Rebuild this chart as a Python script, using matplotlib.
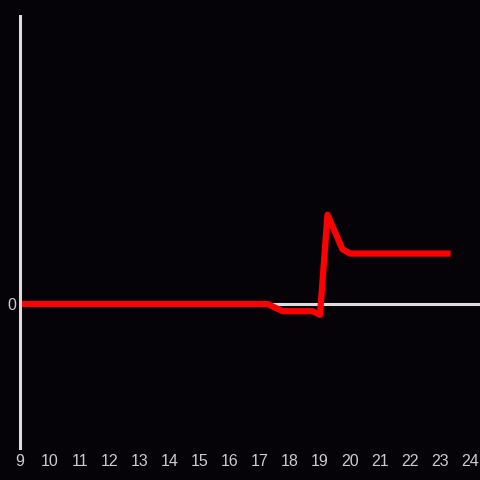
import matplotlib
matplotlib.use("Agg")
import matplotlib.pyplot as plt

# hours (x) and values (y) of the red series
hours = [9, 17.25, 17.75, 18.75, 19.0, 19.25, 19.75, 20.0, 23.25]
values = [0, 0, -5, -5, -7.5, 62, 38, 35, 35]
x_ticks = list(range(9, 25))

bg = "#050308"
fig = plt.figure(figsize=(4.8, 4.8), dpi=100, facecolor=bg)
ax = fig.add_axes([20 / 480, 32 / 480, 460 / 480, 432 / 480])
ax.set_facecolor(bg)

ax.axhline(0, color="#dddddd", lw=2.2, zorder=1)
ax.plot(hours, values, color="#ff0000", lw=4.5, zorder=2)

ax.set_xlim(9, 24 + 1 / 3)
ax.set_ylim(-100, 200)
ax.set_xticks(x_ticks)
ax.set_yticks([0])
ax.tick_params(length=0, colors="#cccccc", labelsize=11.5)
ax.tick_params(axis="x", pad=4)
ax.tick_params(axis="y", pad=3)
for lab in ax.get_xticklabels() + ax.get_yticklabels():
    lab.set_fontfamily("Liberation Sans")

for side in ["top", "right", "bottom"]:
    ax.spines[side].set_visible(False)
ax.spines["left"].set_color("#dddddd")
ax.spines["left"].set_linewidth(2.2)

fig.savefig("out.png", dpi=100, facecolor=bg)
